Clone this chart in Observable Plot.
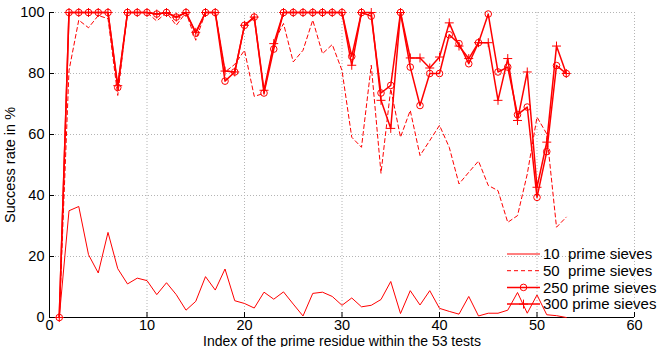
<!DOCTYPE html>
<html><head><meta charset="utf-8">
<script src="https://cdn.jsdelivr.net/npm/d3@7"></script>
<script src="https://cdn.jsdelivr.net/npm/@observablehq/plot@0.6"></script>
<style>body{margin:0;background:#fff}</style>
</head><body><div id="chart"></div>
<script>
const seriesNames = ["10  prime sieves", "50  prime sieves", "250 prime sieves", "300 prime sieves"];
const s10 = [0,35,36.4,20.6,14.6,27.9,16,11,12.9,12.1,7.5,11.4,7.5,2.4,5.3,13.4,9,15.9,5.5,4.6,3.1,8.3,6,8.4,4.4,0.5,7.9,8.3,6.9,4,6.4,3.5,4,5.9,11.8,1.3,8.8,4.1,8.8,3,2,1.1,6.9,0.5,1.4,1.4,2.4,8.2,1.4,7.4,0.9,0.6,0];
const s50 = [0,81,97.5,95,99,98,72.8,100,100,100,97.2,100,95.8,100,90.9,100,100,80.5,83,87.6,72.5,73.5,90,96.4,83.8,87.6,97.5,86.5,89.5,81,59.1,55.8,82.7,47.3,75,59.1,67.9,53.1,58,63,55.8,43.8,47.6,51.3,43.3,41.6,31.2,33.4,47,65.7,60.2,29.6,32.9];
const s250 = [0,100,100,100,100,100,75.4,100,100,100,99.5,100,98.5,100,93.2,100,100,77.5,80.5,95.8,98.5,73.6,88,100,100,100,100,100,100,100,85.6,100,98.8,73.6,76.1,100,82.1,69.5,80,80,92.7,89.8,83.2,90.1,99.5,80.5,82.1,66.5,69,39.4,54.4,82.6,80];
const s300 = [0,100,100,100,100,100,76,100,100,100,99.5,100,98.5,100,93.5,100,100,80.8,80.5,95.8,98.5,74.5,89.8,100,100,100,100,100,100,100,82.7,100,100,71.2,62,100,85.1,85.1,81.8,85.4,96.6,89,84.9,90.1,90.1,71.2,84.9,64.6,80.5,42.7,57.5,89,80];
const xTicks = [0, 10, 20, 30, 40, 50, 60];
const yTicks = [0, 20, 40, 60, 80, 100];
const xLabel = "Index of the prime residue within the 53 tests";
const yLabel = "Success rate in %";

const toRows = (vals, s) => vals.map((v, i) => ({x: i + 1, y: v, s}));
const d10 = toRows(s10, seriesNames[0]);
const d50 = toRows(s50, seriesNames[1]);
const d250 = toRows(s250, seriesNames[2]);
const d300 = toRows(s300, seriesNames[3]);

const RED = "#ff0000";
const FONT = "'Liberation Sans', Arial, Helvetica, sans-serif";
const grid = {stroke: "#b4b4b4", strokeOpacity: 1, strokeDasharray: "1,2", strokeWidth: 1};

const chart = Plot.plot({
  width: 658, height: 347,
  marginLeft: 49, marginRight: 24, marginTop: 12, marginBottom: 30,
  style: {fontFamily: FONT, fontSize: "15px", background: "white", color: "black", overflow: "visible"},
  x: {domain: [0, 60]},
  y: {domain: [0, 100]},
  marks: [
    Plot.gridX(xTicks, grid),
    Plot.gridY(yTicks, grid),
    Plot.axisX(xTicks, {tickSize: 0, tickPadding: 2, label: null, fontSize: 14.5}),
    Plot.axisX({ticks: [], tickSize: 0, label: xLabel, labelAnchor: "center", labelArrow: "none", labelOffset: 28, fontSize: 14}),
    Plot.axisY(yTicks, {tickSize: 0, tickPadding: 5, fontSize: 14.5, label: yLabel, labelAnchor: "center", labelArrow: "none", labelOffset: 45}),
    Plot.ruleX(xTicks, {x: d => d, y1: 0, y2: 0, insetTop: -5, stroke: "black"}),
    Plot.ruleY(yTicks, {y: d => d, x1: 0, x2: 0, insetRight: -5, stroke: "black"}),
    Plot.ruleY([0], {stroke: "black"}),
    Plot.ruleX([0], {stroke: "black"}),
    Plot.line(d10, {x: "x", y: "y", stroke: RED, strokeWidth: 1}),
    Plot.line(d50, {x: "x", y: "y", stroke: RED, strokeWidth: 1, strokeDasharray: "4,3"}),
    Plot.line(d250, {x: "x", y: "y", stroke: RED, strokeWidth: 1.5}),
    Plot.dot(d250, {x: "x", y: "y", r: 3.3, stroke: RED, fill: "none", strokeWidth: 1}),
    Plot.line(d300, {x: "x", y: "y", stroke: RED, strokeWidth: 1.5}),
    Plot.dot(d300, {x: "x", y: "y", symbol: "plus", r: 3, stroke: RED, fill: "none", strokeWidth: 1})
  ]
});
document.getElementById("chart").appendChild(chart);

// Legend (inside plot, lower right)
const svg = d3.select(chart);
const leg = svg.append("g").attr("font-family", FONT).attr("font-size", 15).attr("text-anchor", "start");
const legX0 = 507, legX1 = 540, legTextX = 543, legY0 = 254, legDY = 16.7;
const styles = [
  {w: 1, dash: null, marker: null},
  {w: 1, dash: "4,3", marker: null},
  {w: 1.5, dash: null, marker: "circle"},
  {w: 1.5, dash: null, marker: "plus"}
];
seriesNames.forEach((name, i) => {
  const y = legY0 + i * legDY;
  const st = styles[i];
  const ln = leg.append("line").attr("x1", legX0).attr("x2", legX1).attr("y1", y).attr("y2", y)
    .attr("stroke", RED).attr("stroke-width", st.w);
  if (st.dash) ln.attr("stroke-dasharray", st.dash);
  const cx = (legX0 + legX1) / 2;
  if (st.marker === "circle") {
    leg.append("circle").attr("cx", cx).attr("cy", y).attr("r", 3.3).attr("fill", "none").attr("stroke", RED);
  } else if (st.marker === "plus") {
    leg.append("path").attr("d", d3.symbol(d3.symbolPlus, Math.PI * 3 * 3)()).attr("transform", `translate(${cx},${y})`)
      .attr("fill", "none").attr("stroke", RED);
  }
  leg.append("text").attr("x", legTextX).attr("y", y).attr("dy", "0.35em")
    .style("white-space", "pre").attr("fill", "black").text(name);
});
</script>
</body></html>
